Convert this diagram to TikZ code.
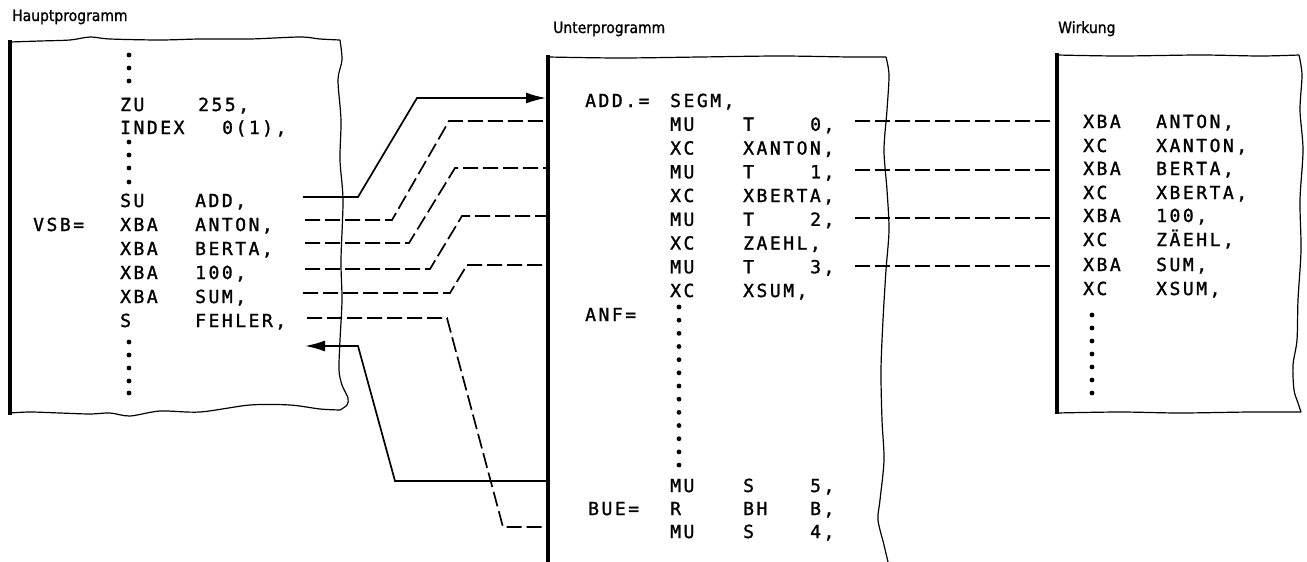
\documentclass[tikz,border=0pt]{standalone}
\usepackage{fontspec}
\usetikzlibrary{arrows.meta}
\newfontfamily\codefont[LetterSpace=14,FakeBold=1.4]{DejaVu Sans Mono}
\newfontfamily\titlefont[FakeStretch=0.9,FakeBold=1.2]{DejaVu Sans}

\tikzset{
  code/.style={font={\fontsize{18}{20}\codefont}, inner sep=0pt, anchor=base west},
  title/.style={font={\fontsize{15.5}{18}\titlefont}, inner sep=0pt, anchor=base west},
  wall/.style={line width=4pt, black},
  rough/.style={line width=1.2pt, black, line join=round},
  conn/.style={line width=1.7pt, black},
  dconn/.style={line width=1.7pt, black, dash pattern=on 15pt off 5pt},
  tip/.style={-{Latex[length=20pt,width=11pt]}}
}

\begin{document}
\begin{tikzpicture}[x=1pt,y=-1pt]
\useasboundingbox (0,0) rectangle (1307,562);

% titles
\node[title] (haupt) at (12,21) {Hauptprogramm};
\node[title] (unter) at (553,33) {Unterprogramm};
\node[title] (wirk) at (1058,33) {Wirkung};

% Hauptprogramm box
\draw[rough] plot[smooth] coordinates {(10,42) (40,41) (70,40) (90,37) (110,39) (160,40) (200,39) (250,39) (300,37) (320,39) (340,40)};
\draw[rough] plot[smooth] coordinates {(340,40) (342,60) (338,80) (341,120) (340,160) (343,200) (341,260) (342,300) (340,340) (339,370) (342,385) (348,398) (347,405) (340,410)};
\draw[rough] plot[smooth] coordinates {(340,410) (320,409) (290,405) (250,405) (200,412) (160,411) (130,416) (110,413) (90,414) (60,413) (30,412) (10,413)};
\draw[wall] (10,40)--(10,415);

% Unterprogramm box
\draw[rough] plot[smooth] coordinates {(548,57) (620,58) (700,57) (780,56) (850,57) (886,57)};
\draw[rough] plot[smooth] coordinates {(886,57) (889,75) (887,110) (884,150) (887,190) (889,230) (886,270) (883,320) (881,370) (882,420) (884,460) (880,500) (878,520) (884,545) (888,562)};
\draw[wall] (548,55)--(548,562);

% Wirkung box
\draw[rough] plot[smooth] coordinates {(1057,55) (1120,56) (1200,55) (1260,56) (1299,55)};
\draw[rough] plot[smooth] coordinates {(1299,55) (1302,75) (1300,110) (1303,150) (1300,200) (1301,250) (1298,300) (1297,340) (1293,365) (1294,390) (1298,403) (1301,412)};
\draw[rough] plot[smooth] coordinates {(1301,412) (1250,412) (1180,413) (1120,412) (1057,413)};
\draw[wall] (1057,53)--(1057,414);

% dots
\foreach \y in {55,68,81,142,155,168,182,342,355,368,381,393}
  \fill[black] (129,\y) circle (2.4pt);
\foreach \i in {0,...,12}
  \fill[black] (679,307+13.17*\i) circle (2.4pt);
\foreach \i in {0,...,6}
  \fill[black] (1092,315+13*\i) circle (2.4pt);

% Hauptprogramm text
\node[code] (zu) at (120,111) {ZU};
\node[code] (zuarg) at (198,111) {255,};
\node[code] (index) at (120,134) {INDEX};
\node[code] (indexarg) at (222,134) {0(1),};
\node[code] (su) at (120,207) {SU};
\node[code] (suarg) at (195,207) {ADD,};
\node[code] (vsb) at (33,231) {VSB=};
\node[code] (xba1) at (120,231) {XBA};
\node[code] (anton) at (195,231) {ANTON,};
\node[code] (xba2) at (120,255) {XBA};
\node[code] (berta) at (195,255) {BERTA,};
\node[code] (xba3) at (120,279) {XBA};
\node[code] (hundert) at (195,279) {100,};
\node[code] (xba4) at (120,303) {XBA};
\node[code] (sum) at (195,303) {SUM,};
\node[code] (s) at (120,327) {S};
\node[code] (fehler) at (195,327) {FEHLER,};

% Unterprogramm text
\node[code] (add) at (585,107) {ADD.=};
\node[code] (segm) at (670,107) {SEGM,};
\foreach \k/\y in {0/130.75,1/178.25,2/225.75,3/273.25}{
  \node[code] (mu\k) at (670,\y) {MU};
  \node[code] (t\k) at (743,\y) {T};
  \node[code] (n\k) at (810,\y) {\k,};
}
\node[code] (xc1) at (670,154.5) {XC};
\node[code] (xanton) at (743,154.5) {XANTON,};
\node[code] (xc2) at (670,202) {XC};
\node[code] (xberta) at (743,202) {XBERTA,};
\node[code] (xc3) at (670,249.5) {XC};
\node[code] (zaehl) at (743,249.5) {ZAEHL,};
\node[code] (xc4) at (670,297) {XC};
\node[code] (xsum) at (743,297) {XSUM,};
\node[code] (anf) at (585,321) {ANF=};
\node[code] (mu5) at (670,492) {MU};
\node[code] (s5) at (743,492) {S};
\node[code] (n5) at (810,492) {5,};
\node[code] (bue) at (588,515) {BUE=};
\node[code] (r) at (670,515) {R};
\node[code] (bh) at (743,515) {BH};
\node[code] (b) at (810,515) {B,};
\node[code] (mu4) at (670,538) {MU};
\node[code] (s4) at (743,538) {S};
\node[code] (n4) at (810,538) {4,};

% Wirkung text
\node[code] (w1) at (1083,128) {XBA};
\node[code] (w1a) at (1156,128) {ANTON,};
\node[code] (w2) at (1083,152) {XC};
\node[code] (w2a) at (1156,152) {XANTON,};
\node[code] (w3) at (1083,175) {XBA};
\node[code] (w3a) at (1156,175) {BERTA,};
\node[code] (w4) at (1083,199) {XC};
\node[code] (w4a) at (1156,199) {XBERTA,};
\node[code] (w5) at (1083,222) {XBA};
\node[code] (w5a) at (1156,222) {100,};
\node[code] (w6) at (1083,246) {XC};
\node[code] (w6a) at (1156,246) {ZÄEHL,};
\node[code] (w7) at (1083,271) {XBA};
\node[code] (w7a) at (1156,271) {SUM,};
\node[code] (w8) at (1083,295) {XC};
\node[code] (w8a) at (1156,295) {XSUM,};

% connector points
\coordinate (c0) at (303,197);
\coordinate (c0a) at (358,197);
\coordinate (c0b) at (417,98);
\coordinate (c0e) at (546,98);
\coordinate (c1) at (305,220);
\coordinate (c1a) at (392,220);
\coordinate (c1b) at (449,121);
\coordinate (c1e) at (548,121);
\coordinate (c2) at (305,243);
\coordinate (c2a) at (409,243);
\coordinate (c2b) at (455,168);
\coordinate (c2e) at (548,168);
\coordinate (c3) at (305,269);
\coordinate (c3a) at (430,269);
\coordinate (c3b) at (462,216);
\coordinate (c3e) at (548,216);
\coordinate (c4) at (303,293);
\coordinate (c4a) at (450,293);
\coordinate (c4b) at (467,265);
\coordinate (c4e) at (548,265);
\coordinate (c5) at (307,318);
\coordinate (c5a) at (447,318);
\coordinate (c5b) at (503,527);
\coordinate (c5e) at (548,527);
\coordinate (r0) at (548,481);
\coordinate (r0a) at (395,481);
\coordinate (r0b) at (358,346);
\coordinate (r0e) at (305,346);
\foreach \k/\y in {0/121,1/170,2/218,3/266}{
  \coordinate (u\k) at (855,\y);
  \coordinate (v\k) at (1057,\y);
}

% connectors
\draw[conn, tip] (c0)--(c0a)--(c0b)--(c0e);
\draw[dconn] (c1)--(c1a)--(c1b)--(c1e);
\draw[dconn] (c2)--(c2a)--(c2b)--(c2e);
\draw[dconn] (c3)--(c3a)--(c3b)--(c3e);
\draw[dconn] (c4)--(c4a)--(c4b)--(c4e);
\draw[dconn] (c5)--(c5a)--(c5b)--(c5e);
\draw[conn, tip] (r0)--(r0a)--(r0b)--(r0e);
\foreach \k in {0,...,3}
  \draw[dconn] (u\k)--(v\k);

\end{tikzpicture}
\end{document}
